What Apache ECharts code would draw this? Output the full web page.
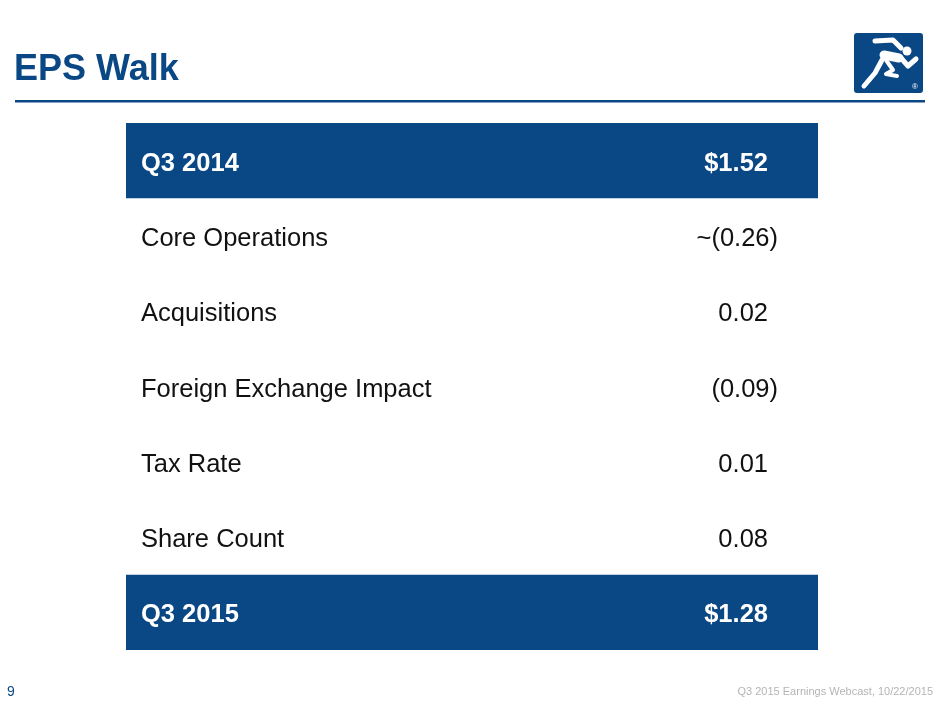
<!DOCTYPE html>
<html>
<head>
<meta charset="utf-8">
<script src="https://cdn.jsdelivr.net/npm/echarts@6/dist/echarts.min.js"></script>
<style>
html,body{margin:0;padding:0;background:#fff;}
#c{width:940px;height:705px;}
</style>
</head>
<body>
<div id="c"></div>
<script>
var title = 'EPS Walk';
var rowLabels = ['Q3 2014', 'Core Operations', 'Acquisitions', 'Foreign Exchange Impact', 'Tax Rate', 'Share Count', 'Q3 2015'];
var rowValues = ['$1.52', '~(0.26)', '0.02', '(0.09)', '0.01', '0.08', '$1.28'];
var rowHighlight = [true, false, false, false, false, false, true];
var pageNumber = '9';
var footerText = 'Q3 2015 Earnings Webcast, 10/22/2015';

var BLUE = '#0a4785';
var FONT = '"Liberation Sans", Arial, Helvetica, sans-serif';

var chart = echarts.init(document.getElementById('c'), null, {renderer: 'canvas'});

var runnerStroke = {stroke: '#fff', lineWidth: 5, lineCap: 'round', lineJoin: 'round', fill: null};

chart.setOption({
  animation: false,
  backgroundColor: '#fff',
  grid: {left: 126, top: 123, width: 692, height: 527},
  xAxis: {type: 'value', min: 0, max: 1, show: false},
  yAxis: {type: 'category', data: rowLabels, inverse: true, show: false},
  graphic: [
    {type: 'text', left: 14, top: 52, style: {text: title, font: 'bold 36px ' + FONT, fill: BLUE}},
    {type: 'rect', shape: {x: 15, y: 100, width: 910, height: 2.5}, style: {fill: BLUE}},
    {type: 'rect', shape: {x: 854, y: 33, width: 69, height: 60, r: 3}, style: {fill: BLUE}},
    {type: 'polyline', shape: {points: [[875,41],[893,40],[901,48]]}, style: runnerStroke},
    {type: 'polyline', shape: {points: [[884,55],[899,58]]}, style: {stroke: '#fff', lineWidth: 9, lineCap: 'round', fill: null}},
    {type: 'polyline', shape: {points: [[901,58],[908,66],[916,59]]}, style: runnerStroke},
    {type: 'polyline', shape: {points: [[882,60],[875,73],[864,86]]}, style: runnerStroke},
    {type: 'polyline', shape: {points: [[886,60],[893,70],[886,74],[897,76]]}, style: {stroke: '#fff', lineWidth: 4, lineCap: 'round', lineJoin: 'round', fill: null}},
    {type: 'circle', shape: {cx: 907, cy: 51, r: 4.5}, style: {fill: '#fff'}},
    {type: 'text', x: 912, y: 83, style: {text: '®', font: '8px ' + FONT, fill: '#fff'}},
    {type: 'text', left: 7, top: 685, style: {text: pageNumber, font: '14px ' + FONT, fill: BLUE}},
    {type: 'text', right: 7, top: 686, style: {text: footerText, font: '11px ' + FONT, fill: '#b4b4b4'}}
  ],
  series: [{
    type: 'custom',
    silent: true,
    encode: {x: 0, y: 1},
    data: rowLabels.map(function (l, i) { return [1, i]; }),
    renderItem: function (params, api) {
      var i = params.dataIndex;
      var start = api.coord([0, i]);
      var end = api.coord([1, i]);
      var h = api.size([0, 1])[1];
      var hl = rowHighlight[i];
      var val = rowValues[i];
      var children = [];
      if (hl) {
        children.push({type: 'rect', shape: {x: start[0], y: start[1] - h / 2, width: end[0] - start[0], height: h}, style: {fill: BLUE}});
      }
      var font = (hl ? 'bold ' : '') + '25.5px ' + FONT;
      var color = hl ? '#ffffff' : '#111111';
      children.push({type: 'text', style: {text: rowLabels[i], x: start[0] + 15, y: start[1] + 3, font: font, fill: color, align: 'left', verticalAlign: 'middle'}});
      var pad = /\)$/.test(val) ? 0 : 10;
      children.push({type: 'text', style: {text: val, x: end[0] - 40 - pad, y: start[1] + 3, font: font, fill: color, align: 'right', verticalAlign: 'middle'}});
      return {type: 'group', children: children};
    }
  }]
});
</script>
</body>
</html>
